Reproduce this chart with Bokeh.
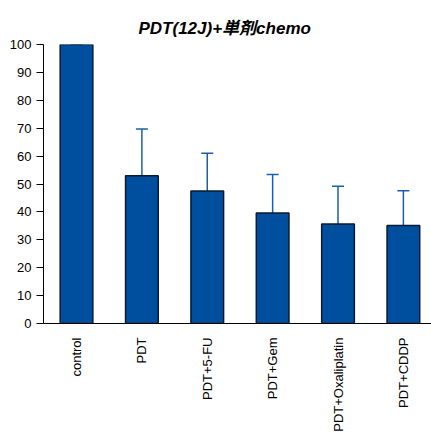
import math
from bokeh.plotting import figure
from bokeh.models import ColumnDataSource, FixedTicker, Whisker, TeeHead, Range1d
from bokeh.embed import file_html
from bokeh.resources import INLINE

# Treatment groups and relative values (mean with upper SD)
categories = ["control", "PDT", "PDT+5-FU", "PDT+Gem", "PDT+Oxaliplatin", "PDT+CDDP"]
means = [100.0, 53.0, 47.5, 39.6, 35.7, 35.1]
errors = [0.0, 16.7, 13.5, 13.8, 13.5, 12.5]
y_ticks = [0, 10, 20, 30, 40, 50, 60, 70, 80, 90, 100]

xs = list(range(len(categories)))
src = ColumnDataSource(dict(
    x=xs,
    top=means,
    upper=[m + e for m, e in zip(means, errors)],
))

FONT = "Liberation Sans, Arial, Noto Sans CJK JP"
BAR = "#004f9f"
ERR = "#1a5fae"

p = figure(
    width=431, height=434,
    x_range=Range1d(-0.505, 5.43), y_range=Range1d(0, 100),
    output_backend="svg", toolbar_location=None,
    min_border_left=43, min_border_right=0,
    min_border_top=44, min_border_bottom=111,
    title="PDT(12J)+単剤chemo",
)
p.title.text_font = FONT
p.title.text_font_size = "17px"
p.title.text_font_style = "bold italic"
p.title.text_color = "black"
p.title.align = "left"
p.title.offset = 95
p.title.standoff = 14

p.outline_line_color = None
p.xgrid.visible = False
p.ygrid.visible = False
p.background_fill_color = "white"
p.border_fill_color = "white"

p.vbar(x="x", top="top", width=0.5, bottom=0, source=src,
       fill_color=BAR, line_color="#0a1a33", line_width=1.5)

p.add_layout(Whisker(
    source=src, base="x", lower="top", upper="upper", dimension="height",
    line_color=ERR, line_width=1.5,
    upper_head=TeeHead(size=12, line_color=ERR, line_width=1.5),
    lower_head=None,
))

# y axis
p.yaxis.ticker = FixedTicker(ticks=y_ticks)
p.yaxis.minor_tick_line_color = None
p.yaxis.major_tick_out = 7
p.yaxis.major_tick_in = 0
p.yaxis.major_label_standoff = 5
p.yaxis.major_label_text_font = FONT
p.yaxis.major_label_text_font_size = "13px"
p.yaxis.major_label_text_color = "black"
p.yaxis.axis_line_color = "black"
p.yaxis.major_tick_line_color = "black"

# x axis with rotated group names
p.xaxis.ticker = FixedTicker(ticks=xs)
p.xaxis.major_label_overrides = {i: c for i, c in enumerate(categories)}
p.xaxis.major_label_orientation = math.pi / 2
p.xaxis.minor_tick_line_color = None
p.xaxis.major_tick_line_color = None
p.xaxis.major_tick_out = 0
p.xaxis.major_tick_in = 0
p.xaxis.major_label_standoff = 14
p.xaxis.major_label_text_font = FONT
p.xaxis.major_label_text_font_size = "13px"
p.xaxis.major_label_text_color = "black"
p.xaxis.axis_line_color = "black"

open("out.html", "w").write(file_html(p, INLINE))
